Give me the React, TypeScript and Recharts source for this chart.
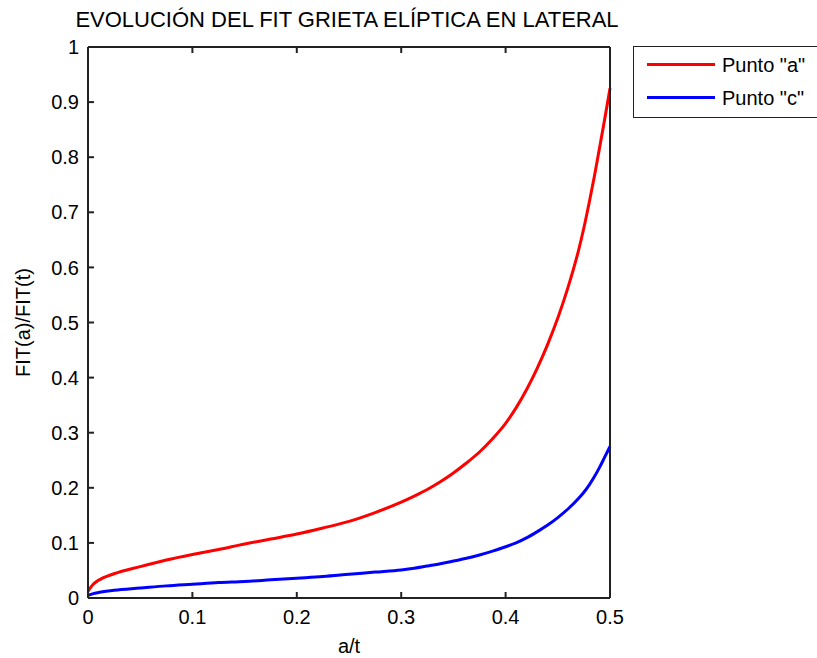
import { LineChart, Line, XAxis, YAxis, Legend, Label } from 'recharts';

// a/t sample positions
const aOverT = [0, 0.005, 0.01, 0.025, 0.05, 0.075, 0.1, 0.125, 0.15, 0.175, 0.2, 0.225, 0.25, 0.275, 0.3, 0.3125, 0.325, 0.3375, 0.35, 0.3625, 0.375, 0.3875, 0.4, 0.41, 0.42, 0.43, 0.44, 0.45, 0.46, 0.47, 0.475, 0.48, 0.485, 0.49, 0.495, 0.5];

// FIT(a)/FIT(t) at point "a" (red)
const puntoA = [0.012, 0.025, 0.032, 0.044, 0.057, 0.069, 0.079, 0.088, 0.098, 0.107, 0.116, 0.127, 0.139, 0.155, 0.174, 0.185, 0.197, 0.211, 0.227, 0.245, 0.265, 0.289, 0.317, 0.345, 0.378, 0.416, 0.459, 0.508, 0.565, 0.632, 0.672, 0.717, 0.765, 0.817, 0.87, 0.925];

// FIT(a)/FIT(t) at point "c" (blue)
const puntoC = [0.005, 0.008, 0.01, 0.014, 0.018, 0.022, 0.025, 0.028, 0.03, 0.033, 0.036, 0.039, 0.043, 0.047, 0.051, 0.054, 0.058, 0.062, 0.067, 0.072, 0.078, 0.085, 0.093, 0.1, 0.109, 0.12, 0.132, 0.146, 0.162, 0.181, 0.192, 0.205, 0.22, 0.237, 0.256, 0.275];

const xTicks = [0, 0.1, 0.2, 0.3, 0.4, 0.5];
const yTicks = [0, 0.1, 0.2, 0.3, 0.4, 0.5, 0.6, 0.7, 0.8, 0.9, 1];

const data = aOverT.map((x, i) => ({ x, a: puntoA[i], c: puntoC[i] }));

const FONT = '"Liberation Sans", Arial, sans-serif';
const AXIS = '#222';
const tickStyle = { fill: '#000', fontSize: 20, fontFamily: FONT };

const renderLegend = (props: any) => (
  <div
    style={{
      border: '1.5px solid #222',
      background: '#fff',
      width: 200,
      height: 72,
      boxSizing: 'border-box',
      paddingTop: 1,
    }}
  >
    {(props.payload || []).map((e: any) => (
      <div key={e.value} style={{ display: 'flex', alignItems: 'center', height: 33 }}>
        <span style={{ display: 'inline-block', width: 68, height: 3, background: e.color, marginLeft: 13, marginRight: 7 }} />
        <span style={{ fontFamily: FONT, fontSize: 20, color: '#000', lineHeight: '22px' }}>{e.value}</span>
      </div>
    ))}
  </div>
);

export default function App() {
  return (
    <div style={{ position: 'absolute', left: 0, top: 0, width: 817, height: 658, overflow: 'hidden', background: '#fff' }}>
      <div
        style={{
          position: 'absolute',
          left: 0,
          top: 9,
          width: 694,
          textAlign: 'center',
          fontFamily: FONT,
          fontSize: 22,
          lineHeight: '22px',
          color: '#000',
          zIndex: 2,
        }}
      >
        EVOLUCIÓN DEL FIT GRIETA ELÍPTICA EN LATERAL
      </div>
      <LineChart width={817} height={658} data={data} margin={{ top: 46, right: 206, bottom: 0, left: 0 }}>
        <XAxis
          dataKey="x"
          type="number"
          domain={[0, 0.5]}
          ticks={xTicks}
          tickFormatter={(v: number) => String(v)}
          height={60}
          stroke={AXIS}
          strokeWidth={2}
          tickSize={-6}
          tickMargin={18}
          tick={tickStyle}
        >
          <Label value="a/t" position="insideBottom" offset={5} style={{ fill: '#000', fontSize: 20, fontFamily: FONT }} />
        </XAxis>
        <XAxis
          xAxisId="top"
          orientation="top"
          dataKey="x"
          type="number"
          domain={[0, 0.5]}
          ticks={xTicks}
          height={1}
          stroke={AXIS}
          strokeWidth={2}
          tickSize={-6}
          tickFormatter={() => ''}
        />
        <YAxis
          type="number"
          domain={[0, 1]}
          ticks={yTicks}
          tickFormatter={(v: number) => String(v)}
          width={88}
          stroke={AXIS}
          strokeWidth={2}
          tickSize={-6}
          tickMargin={15}
          tick={tickStyle}
        >
          <Label
            value="FIT(a)/FIT(t)"
            angle={-90}
            position="insideLeft"
            offset={23}
            style={{ fill: '#000', fontSize: 20, fontFamily: FONT, textAnchor: 'middle' }}
          />
        </YAxis>
        <YAxis
          yAxisId="right"
          orientation="right"
          type="number"
          domain={[0, 1]}
          ticks={yTicks}
          width={1}
          stroke={AXIS}
          strokeWidth={2}
          tickSize={-6}
          tickFormatter={() => ''}
        />
        <Legend
          layout="vertical"
          align="center"
          verticalAlign="middle"
          content={renderLegend}
          wrapperStyle={{ left: 633, top: 46, width: 200, height: 72 }}
        />
        <Line type="monotone" dataKey="a" name={'Punto "a"'} stroke="#ff0000" strokeWidth={3} dot={false} isAnimationActive={false} />
        <Line type="monotone" dataKey="c" name={'Punto "c"'} stroke="#0000ff" strokeWidth={3} dot={false} isAnimationActive={false} />
      </LineChart>
    </div>
  );
}
